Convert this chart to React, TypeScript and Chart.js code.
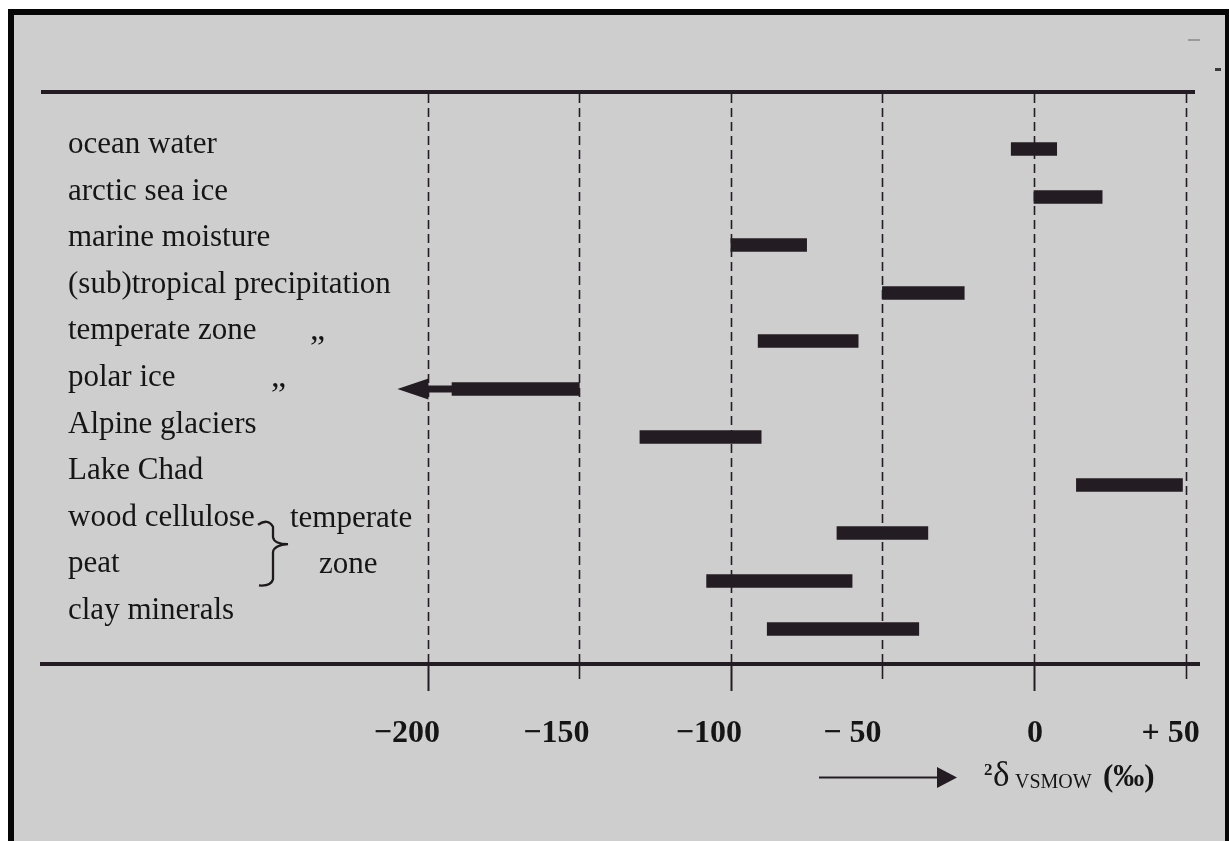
import React, { useEffect, useRef } from "react";
import { Chart, registerables } from "chart.js";

Chart.register(...registerables);

// ---- data ----
const categories = [
  "ocean water",
  "arctic sea ice",
  "marine moisture",
  "(sub)tropical precipitation",
  "temperate zone",
  "polar ice",
  "Alpine glaciers",
  "Lake Chad",
  "wood cellulose",
  "peat",
  "clay minerals",
];
const rangeLow = [-7.5, 0, -100, -50, -91, -192, -130, 14, -65, -108, -88];
const rangeHigh = [7.5, 22.5, -75, -23, -58, -150, -90, 49, -35, -60, -38];
const openEndedIndex = 5; // polar ice continues to lower values (arrow)
const openEndedTip = -210;
const tickValues = [-200, -150, -100, -50, 0, 50];
const tickLabels = ["\u2212200", "\u2212150", "\u2212100", "\u2212 50", "0", "+ 50"];
const dittoRows = [4, 5]; // rows followed by a ditto mark for "precipitation"
const groupRows = [8, 9]; // wood cellulose + peat bracketed "temperate zone"
const groupText = ["temperate", "zone"];
const axisTitleMain = "\u03B4";
const axisTitleSup = "2";
const axisTitleSub = "VSMOW";
const axisTitleUnit = "(\u2030)";

// ---- styling constants ----
const INK = "#241c23";
const TEXT = "#151515";
const PAPER = "#cecece";
const SERIF = "'Liberation Serif', 'Times New Roman', serif";
const labelX = 68;
const labelBaseline0 = 153;
const labelStep = 46.6;
const tickShift = [-21, -23, -22, -30, 1, -15];
const dittoX = [310, 271];

const paperPlugin = {
  id: "paper",
  beforeDraw(chart: any) {
    const { ctx, width, height } = chart;
    ctx.save();
    ctx.fillStyle = "#ffffff";
    ctx.fillRect(0, 0, width, height);
    ctx.fillStyle = "#060606";
    ctx.fillRect(8, 9, width - 8, height - 9);
    ctx.fillStyle = PAPER;
    ctx.fillRect(14, 15, 1225 - 14, height - 15);
    // scan specks
    ctx.fillStyle = "#3a3a3a";
    ctx.fillRect(1215, 68, 6, 3);
    ctx.fillStyle = "#9a9a9a";
    ctx.fillRect(1188, 39, 12, 2);
    ctx.restore();
  },
};

const framePlugin = {
  id: "frame",
  beforeDatasetsDraw(chart: any) {
    const { ctx, chartArea } = chart;
    const xs = chart.scales.x;
    ctx.save();
    // dashed vertical grid lines
    ctx.strokeStyle = INK;
    ctx.lineWidth = 1.6;
    ctx.setLineDash([9, 5]);
    tickValues.forEach((v) => {
      const px = Math.round(xs.getPixelForValue(v)) + 0.5;
      ctx.beginPath();
      ctx.moveTo(px, chartArea.top + 2);
      ctx.lineTo(px, chartArea.bottom);
      ctx.stroke();
    });
    ctx.setLineDash([]);
    // ticks below the lower rule
    tickValues.forEach((v) => {
      const px = Math.round(xs.getPixelForValue(v)) + 0.5;
      const major = v % 100 === 0;
      ctx.lineWidth = major ? 2 : 1.6;
      ctx.beginPath();
      ctx.moveTo(px, chartArea.bottom);
      ctx.lineTo(px, chartArea.bottom + (major ? 27 : 15));
      ctx.stroke();
    });
    // heavy rules top & bottom
    ctx.strokeStyle = INK;
    ctx.lineWidth = 4;
    ctx.beginPath();
    ctx.moveTo(41, chartArea.top);
    ctx.lineTo(1195, chartArea.top);
    ctx.stroke();
    ctx.beginPath();
    ctx.moveTo(40, chartArea.bottom);
    ctx.lineTo(1200, chartArea.bottom);
    ctx.stroke();
    ctx.restore();
  },
  afterDatasetsDraw(chart: any) {
    const { ctx } = chart;
    const xs = chart.scales.x;
    const ys = chart.scales.y;
    ctx.save();

    // open-ended arrow on the polar ice range
    const yc = ys.getPixelForValue(openEndedIndex);
    const xStart = xs.getPixelForValue(rangeLow[openEndedIndex]);
    const xTip = xs.getPixelForValue(openEndedTip);
    const headBase = xTip + 31;
    ctx.fillStyle = INK;
    ctx.fillRect(headBase - 1, yc - 3.5, xStart - headBase + 2, 7);
    ctx.beginPath();
    ctx.moveTo(xTip, yc);
    ctx.lineTo(headBase, yc - 10.5);
    ctx.lineTo(headBase, yc + 10.5);
    ctx.closePath();
    ctx.fill();

    // category labels
    ctx.fillStyle = TEXT;
    ctx.textBaseline = "alphabetic";
    ctx.textAlign = "left";
    ctx.font = `31px ${SERIF}`;
    categories.forEach((c, i) => {
      ctx.fillText(c, labelX, labelBaseline0 + i * labelStep);
    });
    // ditto marks
    ctx.font = `34px ${SERIF}`;
    dittoRows.forEach((r, k) => {
      ctx.fillText("\u201E", dittoX[k], labelBaseline0 + r * labelStep + 1);
    });
    ctx.font = `31px ${SERIF}`;
    // brace group
    const b0 = labelBaseline0 + groupRows[0] * labelStep;
    const b1 = labelBaseline0 + groupRows[1] * labelStep;
    ctx.fillText(groupText[0], 290, b0 + 1);
    ctx.fillText(groupText[1], 319, b1 + 1);
    ctx.strokeStyle = "#1e1a1c";
    ctx.lineWidth = 2.3;
    const mid = (b0 + b1) / 2 - 5;
    ctx.beginPath();
    ctx.moveTo(258, b0 - 1);
    ctx.quadraticCurveTo(268, b0 - 8, 273, b0 + 1);
    ctx.lineTo(273, mid - 7);
    ctx.quadraticCurveTo(274, mid, 288, mid);
    ctx.quadraticCurveTo(274, mid + 1, 273, mid + 8);
    ctx.lineTo(273, b1 + 7);
    ctx.quadraticCurveTo(271, b1 + 14, 259, b1 + 13);
    ctx.stroke();

    // tick labels
    ctx.font = `bold 32px ${SERIF}`;
    ctx.textAlign = "center";
    tickValues.forEach((v, i) => {
      const px = xs.getPixelForValue(v) + tickShift[i];
      ctx.fillText(tickLabels[i], px, 742);
    });

    // axis title with arrow
    ctx.strokeStyle = INK;
    ctx.lineWidth = 2;
    ctx.beginPath();
    ctx.moveTo(819, 777.5);
    ctx.lineTo(940, 777.5);
    ctx.stroke();
    ctx.fillStyle = INK;
    ctx.beginPath();
    ctx.moveTo(937, 767);
    ctx.lineTo(957, 777.5);
    ctx.lineTo(937, 788);
    ctx.closePath();
    ctx.fill();

    ctx.fillStyle = TEXT;
    ctx.textAlign = "left";
    ctx.font = `bold 17px ${SERIF}`;
    ctx.fillText(axisTitleSup, 984, 775);
    ctx.font = `35px ${SERIF}`;
    ctx.fillText(axisTitleMain, 993, 786);
    ctx.font = `20px ${SERIF}`;
    ctx.fillText(axisTitleSub, 1015, 788);
    ctx.font = `bold 31px ${SERIF}`;
    ctx.fillText(axisTitleUnit, 1103, 786);

    ctx.restore();
  },
};

export default function App() {
  const canvasRef = useRef<HTMLCanvasElement | null>(null);

  useEffect(() => {
    const canvas = canvasRef.current;
    if (!canvas) return;
    const chart = new Chart(canvas, {
      type: "bar",
      data: {
        datasets: [
          {
            data: categories.map((_, i) => ({ y: i, x: [rangeLow[i], rangeHigh[i]] })) as any,
            backgroundColor: INK,
            borderWidth: 0,
            barThickness: 13,
          },
        ],
      },
      options: {
        indexAxis: "y",
        responsive: false,
        animation: false,
        devicePixelRatio: 1,
        layout: { padding: { top: 92, bottom: 177, left: 41, right: 35 } },
        plugins: {
          legend: { display: false },
          tooltip: { enabled: false },
        },
        scales: {
          x: {
            type: "linear",
            min: -327.6,
            max: 52.8,
            display: false,
          },
          y: {
            type: "linear",
            reverse: true,
            offset: false,
            grace: 0,
            min: -1.1875,
            max: 10.729,
            display: false,
          },
        },
      },
      plugins: [paperPlugin, framePlugin],
    });
    return () => chart.destroy();
  }, []);

  return (
    <div
      style={{
        position: "fixed",
        left: 0,
        top: 0,
        width: 1229,
        height: 841,
        background: "#fff",
        overflow: "hidden",
      }}
    >
      <canvas ref={canvasRef} width={1229} height={841} style={{ display: "block" }} />
    </div>
  );
}
